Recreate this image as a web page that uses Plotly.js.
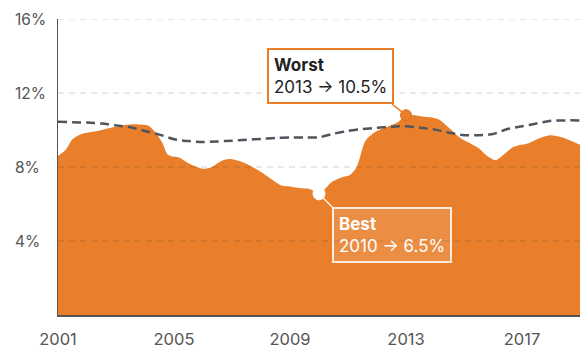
<!DOCTYPE html>
<html>
<head>
<meta charset="utf-8">
<script src="https://cdn.plot.ly/plotly-3.0.1.min.js"></script>
<style>html,body{margin:0;padding:0;background:#fff;}#chart{width:580px;height:350px;}</style>
</head>
<body>
<div id="chart"></div>
<script>
// Area series: local rate (years, %)
const rateYears = [2001.0, 2001.25, 2001.5, 2001.75, 2002.0, 2002.4, 2002.75, 2003.1, 2003.5, 2003.8, 2004.1, 2004.35, 2004.6, 2004.8, 2005.2, 2005.5, 2006.0, 2006.3, 2006.6, 2006.9, 2007.3, 2007.6, 2008.0, 2008.4, 2008.7, 2009.0, 2009.4, 2009.7, 2010.0, 2010.45, 2010.8, 2011.05, 2011.3, 2011.6, 2011.95, 2012.4, 2012.7, 2013.0, 2013.5, 2014.1, 2014.5, 2014.85, 2015.25, 2015.5, 2015.8, 2016.1, 2016.4, 2016.7, 2017.25, 2017.6, 2017.95, 2018.4, 2019.0];
const rateValues = [8.6, 8.9, 9.5, 9.75, 9.85, 9.96, 10.1, 10.22, 10.3, 10.3, 10.25, 9.9, 9.3, 8.65, 8.5, 8.2, 7.9, 8.0, 8.3, 8.43, 8.3, 8.1, 7.73, 7.3, 7.0, 6.95, 6.85, 6.8, 6.55, 7.2, 7.45, 7.55, 8.0, 9.4, 9.9, 10.2, 10.4, 10.8, 10.75, 10.6, 10.1, 9.6, 9.25, 9.03, 8.6, 8.38, 8.7, 9.08, 9.3, 9.55, 9.72, 9.6, 9.2];

// Dashed benchmark series
const benchYears = [2001.0, 2001.5, 2002.0, 2002.5, 2003.0, 2003.5, 2004.0, 2004.5, 2005.0, 2005.5, 2006.0, 2006.5, 2007.0, 2007.5, 2008.0, 2008.5, 2009.0, 2009.5, 2010.0, 2010.5, 2011.0, 2011.5, 2012.0, 2012.5, 2013.0, 2013.5, 2014.0, 2014.5, 2015.0, 2015.5, 2016.0, 2016.5, 2017.0, 2017.5, 2018.0, 2018.5, 2019.0];
const benchValues = [10.45, 10.42, 10.4, 10.35, 10.25, 10.15, 9.95, 9.75, 9.5, 9.4, 9.35, 9.38, 9.42, 9.47, 9.52, 9.57, 9.6, 9.6, 9.6, 9.8, 9.95, 10.05, 10.12, 10.18, 10.2, 10.12, 10.02, 9.85, 9.72, 9.72, 9.78, 10.05, 10.2, 10.35, 10.5, 10.52, 10.52];

// Highlights
const worstYear = 2013, worstValue = 10.8, worstLabel = "<b>Worst</b><br>2013 → 10.5%";
const bestYear = 2010, bestValue = 6.55, bestLabel = "<b>Best</b><br>2010 → 6.5%";

// Ticks
const xTickVals = [2001, 2005, 2009, 2013, 2017];
const xTickText = ["2001", "2005", "2009", "2013", "2017"];
const yTickVals = [4, 8, 12, 16];
const yTickText = ["4%", "8%", "12%", "16%"];

const ORANGE = "#E97F2A";
const FONT = "Inter, 'Noto Sans', sans-serif";

const traces = [
  {x: rateYears, y: rateValues, type: "scatter", mode: "lines", fill: "tozeroy",
   fillcolor: ORANGE, line: {color: ORANGE, width: 0, shape: "spline", smoothing: 0.8}, hoverinfo: "skip"},
  {x: benchYears, y: benchValues, type: "scatter", mode: "lines",
   line: {color: "#4E555C", width: 2.5, dash: "9px,5px", shape: "spline", smoothing: 0.6}, hoverinfo: "skip"},
  {x: [worstYear], y: [worstValue], type: "scatter", mode: "markers",
   marker: {color: ORANGE, size: 11, line: {color: "#E0701E", width: 1}}, hoverinfo: "skip"},
  {x: [bestYear], y: [bestValue], type: "scatter", mode: "markers",
   marker: {color: "#ffffff", size: 12, line: {color: "#ffffff", width: 1}}, hoverinfo: "skip"}
];

const shapes = yTickVals.map(v => ({
  type: "line", xref: "paper", x0: 0, x1: 1, yref: "y", y0: v, y1: v, layer: "above",
  line: {color: "rgba(60,60,60,0.22)", width: 1, dash: "6px,5px"}
}));
// connectors
shapes.push({type: "line", xref: "x", yref: "y", xsizemode: "pixel", ysizemode: "pixel",
  xanchor: worstYear, yanchor: worstValue, x0: 0, y0: 0, x1: -14, y1: 11, layer: "above",
  line: {color: ORANGE, width: 1.5}});
shapes.push({type: "line", xref: "x", yref: "y", xsizemode: "pixel", ysizemode: "pixel",
  xanchor: bestYear, yanchor: bestValue, x0: 0, y0: 0, x1: 14, y1: -14, layer: "above",
  line: {color: "rgba(255,255,255,0.9)", width: 1.5}});

const annotations = yTickVals.map((v, i) => ({
  xref: "paper", x: 0, xanchor: "left", xshift: -45, yref: "y", y: v, yanchor: "middle",
  text: yTickText[i], showarrow: false, font: {family: FONT, size: 15.5, color: "#555555"}
}));
annotations.push({
  xref: "x", yref: "y", x: worstYear, y: worstValue, xanchor: "right", yanchor: "bottom",
  xshift: -12, yshift: 11, text: worstLabel, showarrow: false, align: "left",
  bgcolor: "#ffffff", bordercolor: ORANGE, borderwidth: 2, borderpad: 5,
  font: {family: FONT, size: 17, color: "#222222"}
});
annotations.push({
  xref: "x", yref: "y", x: bestYear, y: bestValue, xanchor: "left", yanchor: "top",
  xshift: 13, yshift: -13, text: bestLabel, showarrow: false, align: "left",
  bgcolor: "rgba(255,255,255,0.12)", bordercolor: "rgba(255,255,255,0.85)", borderwidth: 2, borderpad: 5,
  font: {family: FONT, size: 17, color: "#ffffff"}
});

const layout = {
  width: 580, height: 350,
  margin: {l: 58, r: 0, t: 19, b: 35},
  paper_bgcolor: "#ffffff", plot_bgcolor: "#ffffff",
  showlegend: false,
  font: {family: FONT},
  xaxis: {range: [2001, 2019], tickvals: xTickVals, ticktext: xTickText, showgrid: false, zeroline: false,
          showline: true, linecolor: "#555555", linewidth: 1.5, ticks: "", ticklabelstandoff: 9,
          tickfont: {family: FONT, size: 16.5, color: "#555555"}, fixedrange: true},
  yaxis: {range: [0, 16], tickvals: yTickVals, showticklabels: false, showgrid: false, zeroline: false,
          showline: true, linecolor: "#555555", linewidth: 1.5, ticks: "", fixedrange: true},
  shapes: shapes,
  annotations: annotations
};

Plotly.newPlot("chart", traces, layout, {displayModeBar: false, staticPlot: true});
</script>
</body>
</html>
